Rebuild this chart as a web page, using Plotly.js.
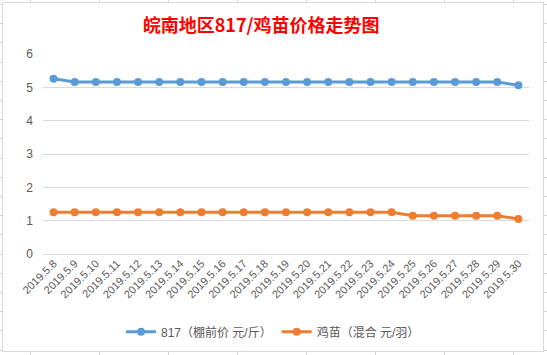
<!DOCTYPE html>
<html>
<head>
<meta charset="utf-8">
<script src="https://cdn.plot.ly/plotly-3.0.1.min.js"></script>
<style>
  html, body { margin: 0; padding: 0; }
  body {
    width: 547px; height: 355px; overflow: hidden; position: relative;
    background-color: #ffffff;
    background-image:
      repeating-linear-gradient(to right, transparent 0px, transparent 30px, #d4d4d4 30px, #d4d4d4 31px, transparent 31px, transparent 69px),
      repeating-linear-gradient(to bottom, transparent 0px, transparent 4px, #d4d4d4 4px, #d4d4d4 5px, transparent 5px, transparent 19.2px);
  }
  #chart {
    position: absolute; left: 2px; top: 2px;
    width: 540px; height: 348px;
    border: 1px solid #d9d9d9; background: #ffffff;
  }
</style>
</head>
<body>
<div id="chart"></div>
<script>
const categories = ["2019.5.8","2019.5.9","2019.5.10","2019.5.11","2019.5.12","2019.5.13","2019.5.14","2019.5.15","2019.5.16","2019.5.17","2019.5.18","2019.5.19","2019.5.20","2019.5.21","2019.5.22","2019.5.23","2019.5.24","2019.5.25","2019.5.26","2019.5.27","2019.5.28","2019.5.29","2019.5.30"];
const price817 = [5.26,5.16,5.16,5.16,5.16,5.16,5.16,5.16,5.16,5.16,5.16,5.16,5.16,5.16,5.16,5.16,5.16,5.16,5.16,5.16,5.16,5.16,5.06];
const priceChick = [1.25,1.25,1.25,1.25,1.25,1.25,1.25,1.25,1.25,1.25,1.25,1.25,1.25,1.25,1.25,1.25,1.25,1.15,1.15,1.15,1.15,1.15,1.05];
const seriesNames = ["817（棚前价 元/斤）", "鸡苗（混合 元/羽）"];
const yTicks = [0,1,2,3,4,5,6];
const titleText = "皖南地区817/鸡苗价格走势图";

const traces = [
  {
    x: categories, y: price817, name: seriesNames[0], type: "scatter", mode: "lines+markers",
    line: {color: "#5B9BD5", width: 3}, marker: {color: "#5B9BD5", size: 8}
  },
  {
    x: categories, y: priceChick, name: seriesNames[1], type: "scatter", mode: "lines+markers",
    line: {color: "#ED7D31", width: 3}, marker: {color: "#ED7D31", size: 8}
  }
];

const layout = {
  width: 540, height: 348,
  margin: {l: 40, r: 14, t: 51, b: 97},
  paper_bgcolor: "#ffffff", plot_bgcolor: "#ffffff",
  font: {family: "'Liberation Sans', 'Noto Sans CJK SC', sans-serif", color: "#595959", size: 12},
  title: {
    text: titleText, xref: "container", yref: "container",
    x: 0.478, xanchor: "center", y: 0.935, yanchor: "middle",
    font: {family: "'Noto Sans CJK SC', sans-serif", size: 18, color: "#FF0000", weight: "bold"}
  },
  xaxis: {
    type: "category", range: [-0.5, 22.5], showgrid: false, zeroline: false,
    showline: false, ticks: "", tickangle: -45, automargin: false,
    tickfont: {size: 11, color: "#595959", family: "'Liberation Sans', sans-serif"},
    fixedrange: true
  },
  yaxis: {
    range: [0, 6], tickvals: yTicks, ticktext: yTicks.map(String),
    showgrid: true, gridcolor: "#d9d9d9", gridwidth: 1,
    zeroline: true, zerolinecolor: "#d9d9d9", zerolinewidth: 1,
    showline: false, ticks: "", ticklabelstandoff: 9, automargin: false,
    tickfont: {size: 12, color: "#595959", family: "'Liberation Sans', sans-serif"},
    fixedrange: true
  },
  showlegend: true,
  legend: {
    orientation: "h", xref: "container", yref: "container",
    x: 0.5, xanchor: "center", y: 0.055, yanchor: "middle",
    font: {size: 12, color: "#595959", family: "'Liberation Sans', 'Noto Sans CJK SC', sans-serif"},
    itemwidth: 30, tracegroupgap: 0
  }
};

Plotly.newPlot("chart", traces, layout, {displayModeBar: false, staticPlot: true});
</script>
</body>
</html>
